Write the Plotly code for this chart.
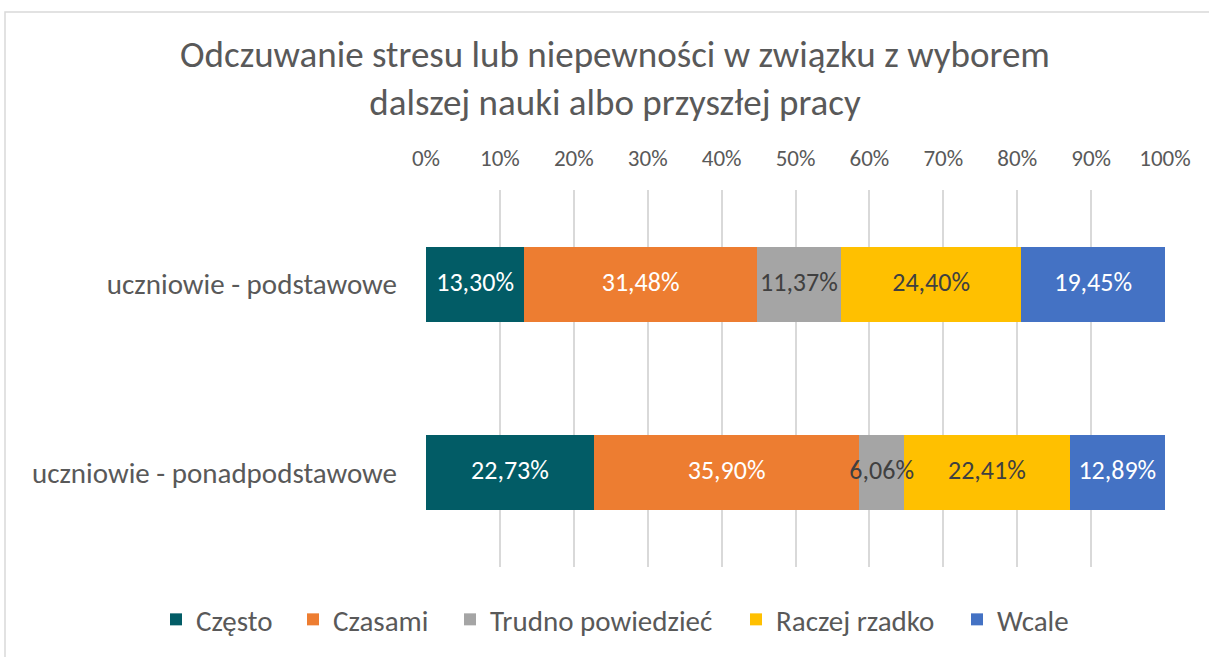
import numpy as np
import plotly.graph_objects as go

categories = ["uczniowie - podstawowe", "uczniowie - ponadpodstawowe"]
series_names = ["Często", "Czasami", "Trudno powiedzieć", "Raczej rzadko", "Wcale"]
czesto = [13.30, 22.73]
czasami = [31.48, 35.90]
trudno = [11.37, 6.06]
raczej = [24.40, 22.41]
wcale = [19.45, 12.89]
tick_vals = [0, 10, 20, 30, 40, 50, 60, 70, 80, 90, 100]
tick_text = [f"{v}%" for v in tick_vals]

series_values = [czesto, czasami, trudno, raczej, wcale]
colors = ["#025C66", "#ED7D31", "#A5A5A5", "#FFC000", "#4472C4"]
text_colors = ["#FFFFFF", "#FFFFFF", "#404040", "#404040", "#FFFFFF"]
# left pixel of each legend entry (layout only)
legend_left_px = [156, 293, 450, 736, 957]

FONT = "Carlito, Calibri, Lato, sans-serif"
W, H = 1209, 657
PL, PR, PT, PB = 426, 1165, 190, 567
PW, PH = PR - PL, PB - PT

fig = go.Figure()
legend_layouts = {}
for i, (name, vals, c) in enumerate(zip(series_names, series_values, colors)):
    lname = "legend" if i == 0 else f"legend{i + 1}"
    fig.add_trace(go.Bar(
        y=categories, x=vals, name=name, orientation="h",
        marker=dict(color=c, line=dict(width=0)),
        hoverinfo="skip", legend=lname, showlegend=True,
    ))
    legend_layouts[lname] = dict(
        visible=True,
        orientation="h", xref="paper", x=(legend_left_px[i] - PL) / PW, xanchor="left",
        yref="paper", y=(PB - 594) / PH, yanchor="top",
        font=dict(family=FONT, size=29, color="#595959"),
        itemwidth=30, bgcolor="rgba(0,0,0,0)",
    )

# data labels drawn on top of all bars, centred in each stacked segment
arr = np.array(series_values, dtype=float)
starts = np.cumsum(arr, axis=0) - arr
for i, (vals, tc) in enumerate(zip(series_values, text_colors)):
    mids = starts[i] + arr[i] / 2
    fig.add_trace(go.Scatter(
        x=mids, y=categories, mode="text",
        text=[f"{v:.2f}".replace(".", ",") + "%" for v in vals],
        textposition="middle center",
        textfont=dict(family=FONT, size=26, color=tc),
        showlegend=False, hoverinfo="skip", cliponaxis=False,
    ))

fig.update_layout(
    showlegend=True,
    barmode="stack",
    bargap=0.6,
    width=W, height=H,
    margin=dict(l=PL, r=W - PR, t=PT, b=H - PB, autoexpand=False),
    paper_bgcolor="white", plot_bgcolor="white",
    separators=", ",
    font=dict(family=FONT, color="#595959"),
    title=dict(
        text="Odczuwanie stresu lub niepewności w związku z wyborem<br>dalszej nauki albo przyszłej pracy",
        x=615 / W, xanchor="center", yref="container", y=1 - 67 / H, yanchor="middle",
        font=dict(family=FONT, size=37, color="#595959"),
    ),
    xaxis=dict(
        side="top", range=[0, 100], tickmode="array", tickvals=tick_vals, ticktext=tick_text,
        showgrid=True, gridcolor="#D9D9D9", gridwidth=1.5,
        zeroline=False, showline=False, ticks="",
        tickfont=dict(family=FONT, size=23, color="#595959"),
        ticklabelstandoff=18,
    ),
    yaxis=dict(
        categoryorder="array", categoryarray=categories, autorange="reversed",
        showgrid=False, zeroline=False, showline=False, ticks="",
        tickfont=dict(family=FONT, size=29, color="#595959"),
        ticklabelstandoff=28,
    ),
    shapes=[dict(
        type="rect", xref="paper", yref="paper",
        x0=(5 - PL) / PW, x1=(1230 - PL) / PW,
        y0=(PB - 680) / PH, y1=(PB - 12) / PH,
        line=dict(color="#D9D9D9", width=1.5), fillcolor="rgba(0,0,0,0)",
        layer="below",
    )],
    **legend_layouts,
)

fig.write_html(
    "out.html",
    config={"displayModeBar": False},
    post_script="document.body.style.margin='0';document.body.style.overflow='hidden';",
)
